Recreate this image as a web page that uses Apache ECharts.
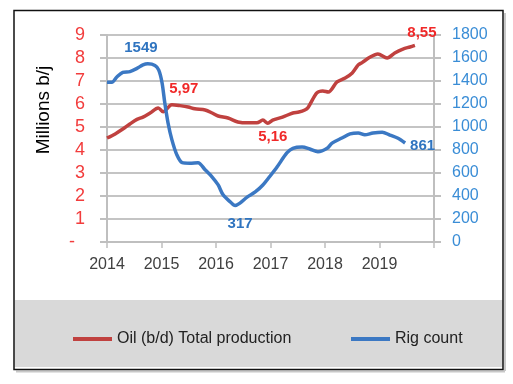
<!DOCTYPE html>
<html>
<head>
<meta charset="utf-8">
<style>
html,body{margin:0;padding:0;background:#fff;}
#chart{width:513px;height:384px;}
</style>
<script src="https://cdn.jsdelivr.net/npm/echarts@6/dist/echarts.min.js"></script>
</head>
<body>
<div id="chart"></div>
<script>
// ---- data ----
const xTicks = [2014, 2015, 2016, 2017, 2018, 2019, 2020];
const oilYears = [2014.00,2014.15,2014.29,2014.42,2014.55,2014.66,2014.79,2014.94,2015.03,2015.19,2015.34,2015.49,2015.61,2015.80,2015.93,2016.04,2016.22,2016.40,2016.59,2016.75,2016.86,2016.95,2017.04,2017.22,2017.41,2017.52,2017.63,2017.69,2017.85,2017.96,2018.06,2018.22,2018.37,2018.50,2018.61,2018.68,2018.83,2018.97,2019.14,2019.28,2019.43,2019.56,2019.65];
const oilValues = [4.52,4.70,4.91,5.13,5.33,5.43,5.61,5.83,5.66,5.97,5.93,5.87,5.79,5.74,5.61,5.48,5.39,5.22,5.18,5.18,5.30,5.16,5.30,5.43,5.61,5.65,5.74,5.85,6.48,6.57,6.52,6.96,7.13,7.35,7.70,7.80,8.04,8.17,8.00,8.22,8.39,8.48,8.55];
const rigYears = [2014.00,2014.09,2014.18,2014.29,2014.42,2014.55,2014.66,2014.75,2014.88,2014.95,2015.01,2015.06,2015.12,2015.19,2015.28,2015.38,2015.52,2015.67,2015.80,2015.93,2016.04,2016.13,2016.26,2016.35,2016.44,2016.57,2016.72,2016.86,2016.99,2017.12,2017.30,2017.41,2017.58,2017.72,2017.87,2018.04,2018.13,2018.31,2018.46,2018.61,2018.73,2018.88,2019.05,2019.19,2019.34,2019.47];
const rigValues = [1390,1390,1435,1475,1482,1510,1540,1549,1535,1495,1385,1210,1035,890,760,690,685,690,628,565,496,410,350,317,338,390,435,496,572,652,774,815,826,809,785,815,860,904,940,948,932,948,955,930,902,861];
const leftTicks = [0,1,2,3,4,5,6,7,8,9];
const rightTicks = [0,200,400,600,800,1000,1200,1400,1600,1800];
const oilName = 'Oil (b/d) Total production';
const rigName = 'Rig count';
const oilLabelIdx = [9, 21, oilValues.length - 1];
const rigLabelIdx = [7, 23, rigValues.length - 1];

// ---- styles ----
const FONT = "'Liberation Sans', Arial, sans-serif";
const oilLine = '#c0413f';
const rigLine = '#3b78c3';
const oilLbl = '#f02828';
const rigLbl = '#2f74c0';

const oilLabelPos = [
  {position:'top', offset:[12,-3]},
  {position:'bottom', offset:[5,1]},
  {position:'top', offset:[7,0]}
];
const rigLabelPos = [
  {position:'top', offset:[-7,-4]},
  {position:'bottom', offset:[5,6]},
  {position:'right', offset:[0,3]}
];

function buildMarks(xs, ys, idxs, pos, color, fmt) {
  return idxs.map((i, k) => ({
    coord: [xs[i], ys[i]],
    label: Object.assign({
      show: true, color: color, fontWeight: 'bold', fontSize: 15, fontFamily: FONT,
      formatter: fmt(ys[i])
    }, pos[k])
  }));
}

const chart = echarts.init(document.getElementById('chart'), null, {renderer:'canvas'});
chart.setOption({
  animation: false,
  backgroundColor: '#fff',
  graphic: [
    {type:'rect', shape:{x:14.5, y:300, width:488, height:67}, style:{fill:'#d9d9d9'}, z:-10},
    {type:'rect', shape:{x:14, y:10.5, width:489, height:359}, style:{fill:null, stroke:'#111', lineWidth:1.5}, z:-5},
    {type:'line', shape:{x1:505, y1:13, x2:505, y2:371}, style:{stroke:'#c8c8c8', lineWidth:2}, z:-6},
    {type:'line', shape:{x1:16, y1:371.5, x2:505, y2:371.5}, style:{stroke:'#c8c8c8', lineWidth:2}, z:-6},
    {type:'text', x:44, y:110, rotation:Math.PI/2,
      style:{text:'Millions b/j', fill:'#000', font:'19px ' + FONT, textAlign:'center', textVerticalAlign:'middle'}}
  ],
  legend: [
    {data:[oilName], left:68, top:326, icon:'rect', itemWidth:39, itemHeight:4, itemGap:5,
      textStyle:{fontSize:16, color:'#222', fontFamily:FONT}},
    {data:[rigName], left:346, top:326, icon:'rect', itemWidth:39, itemHeight:4, itemGap:5,
      textStyle:{fontSize:16, color:'#222', fontFamily:FONT}}
  ],
  grid: {left:107, right:79, top:35, bottom:142, containLabel:false},
  xAxis: {
    type:'value', min:xTicks[0], max:xTicks[xTicks.length-1], interval:1,
    axisLine:{show:true, lineStyle:{color:'#bfbfbf', width:2}},
    axisTick:{show:true, length:6, lineStyle:{color:'#bfbfbf', width:1.5}},
    splitLine:{show:false},
    axisLabel:{margin:15, fontSize:16, color:'#404040', fontFamily:FONT,
      formatter: v => (xTicks.indexOf(v) >= 0 && v !== xTicks[xTicks.length-1]) ? String(v) : ''}
  },
  yAxis: [
    {type:'value', min:leftTicks[0], max:leftTicks[leftTicks.length-1], interval:1, position:'left',
      axisLine:{show:true, lineStyle:{color:'#bfbfbf', width:2}},
      axisTick:{show:true, length:7, lineStyle:{color:'#bfbfbf', width:2}},
      splitLine:{show:true, lineStyle:{color:'#c4c4c4', width:2}},
      axisLabel:{margin:22, fontSize:18, color:'#f23c3c', fontFamily:FONT,
        formatter: v => v === 0 ? '-  ' : String(v)}
    },
    {type:'value', min:rightTicks[0], max:rightTicks[rightTicks.length-1], interval:200, position:'right',
      axisLine:{show:true, lineStyle:{color:'#bfbfbf', width:2}},
      axisTick:{show:true, length:7, lineStyle:{color:'#bfbfbf', width:2}},
      splitLine:{show:false},
      axisLabel:{margin:18, fontSize:16, color:'#3a8dd6', fontFamily:FONT, formatter: v => String(v)}
    }
  ],
  series: [
    {name:oilName, type:'line', yAxisIndex:0, showSymbol:false, symbol:'none', smooth:0.3,
      lineStyle:{color:oilLine, width:3.5}, itemStyle:{color:oilLine},
      data: oilYears.map((x, i) => [x, oilValues[i]]),
      markPoint:{symbol:'circle', symbolSize:0, silent:true,
        data: buildMarks(oilYears, oilValues, oilLabelIdx, oilLabelPos, oilLbl, v => v.toFixed(2).replace('.', ','))}
    },
    {name:rigName, type:'line', yAxisIndex:1, showSymbol:false, symbol:'none', smooth:0.3,
      lineStyle:{color:rigLine, width:3.5}, itemStyle:{color:rigLine},
      data: rigYears.map((x, i) => [x, rigValues[i]]),
      markPoint:{symbol:'circle', symbolSize:0, silent:true,
        data: buildMarks(rigYears, rigValues, rigLabelIdx, rigLabelPos, rigLbl, v => String(v))}
    }
  ]
});
</script>
</body>
</html>
